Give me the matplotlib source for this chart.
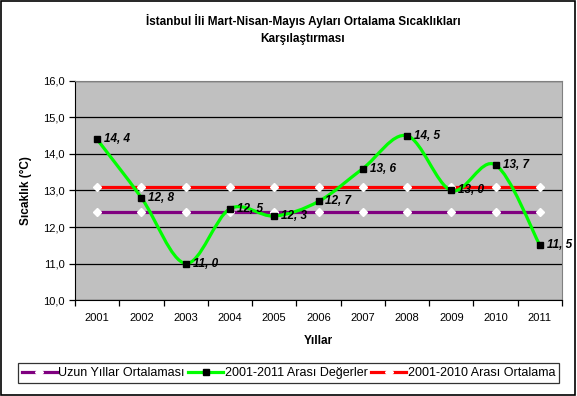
import matplotlib

matplotlib.use("Agg")

import matplotlib.pyplot as plt
import numpy as np
from matplotlib.patches import PathPatch, Rectangle
from matplotlib.path import Path
from matplotlib.lines import Line2D

years = ["2001", "2002", "2003", "2004", "2005", "2006",
         "2007", "2008", "2009", "2010", "2011"]
values = [14.4, 12.8, 11.0, 12.5, 12.3, 12.7, 13.6, 14.5, 13.0, 13.7, 11.5]
long_term_mean = [12.4] * 11
mean_2001_2010 = [13.1] * 11

title = "İstanbul İli Mart-Nisan-Mayıs Ayları Ortalama Sıcaklıkları\nKarşılaştırması"
ylabel = "Sıcaklık (°C)"
xlabel = "Yıllar"
legend_labels = ["Uzun Yıllar Ortalaması", "2001-2011 Arası Değerler",
                 "2001-2010 Arası Ortalama"]

plt.rcParams["font.family"] = ["Liberation Sans", "DejaVu Sans"]


def smooth_path(x, y):
    # Excel style smoothed line: Catmull-Rom as cubic Bezier segments
    pts = np.column_stack([x, y]).astype(float)
    ext = np.vstack([pts[0], pts, pts[-1]])
    verts = [pts[0]]
    codes = [Path.MOVETO]
    for i in range(len(pts) - 1):
        p0, p1, p2, p3 = ext[i], ext[i + 1], ext[i + 2], ext[i + 3]
        c1 = p1 + (p2 - p0) / 6.0
        c2 = p2 - (p3 - p1) / 6.0
        verts += [c1, c2, p2]
        codes += [Path.CURVE4] * 3
    return Path(verts, codes)


fig = plt.figure(figsize=(5.77, 3.96), dpi=100, facecolor="white")
fig.patches.append(Rectangle((0.002, 0.003), 0.995, 0.994, transform=fig.transFigure,
                             fill=False, edgecolor="black", linewidth=1.2))

ax = fig.add_axes([0.130, 0.2424, 0.844, 0.5531])
ax.set_facecolor("#C0C0C0")
x = np.arange(len(years))

purple_line, = ax.plot(x, long_term_mean, color="#800080", linewidth=2.3,
                       marker="D", markersize=3.8, markerfacecolor="white",
                       markeredgecolor="white", zorder=3)
red_line, = ax.plot(x, mean_2001_2010, color="#FF0000", linewidth=2.3,
                    marker="D", markersize=3.8, markerfacecolor="white",
                    markeredgecolor="white", zorder=3)
ax.add_patch(PathPatch(smooth_path(x, values), facecolor="none",
                       edgecolor="#00FF00", linewidth=2.3, zorder=4))
ax.plot(x, values, linestyle="none", marker="s", markersize=4.4,
        color="black", zorder=5)

for xi, v in zip(x, values):
    ax.annotate(f"{v:.1f}".replace(".", ", "), (xi, v), xytext=(5, 0),
                textcoords="offset points", ha="left", va="center",
                fontsize=8.5, fontweight="bold", fontstyle="italic", zorder=6)

ax.set_ylim(10, 16)
ax.set_yticks(np.arange(10, 16.5, 1))
ax.set_yticklabels([f"{t:.1f}".replace(".", ",") for t in np.arange(10, 16.5, 1)],
                   fontsize=8)
ax.grid(axis="y", color="black", linewidth=0.9)
ax.set_axisbelow(True)

ax.set_xlim(-0.5, len(years) - 0.5)
ax.set_xticks(np.arange(-0.5, len(years)))
ax.set_xticklabels([])
ax.set_xticks(x, minor=True)
ax.set_xticklabels(years, minor=True, fontsize=8)
ax.tick_params(axis="x", which="minor", length=0, pad=9)
ax.tick_params(axis="both", which="major", length=4, width=0.9, direction="out")

for side in ["top", "right"]:
    ax.spines[side].set_color("#808080")
for side in ["left", "bottom"]:
    ax.spines[side].set_color("black")

ax.set_ylabel(ylabel, fontsize=8.5, fontweight="bold", labelpad=8)
ax.set_xlabel(xlabel, fontsize=8.5, fontweight="bold", labelpad=9)
fig.text(0.525, 0.925, title, ha="center", va="center", fontsize=8.5,
         fontweight="bold", linespacing=1.5)

handles = [
    purple_line,
    Line2D([], [], color="#00FF00", linewidth=2.3, marker="s", markersize=4.4,
           markerfacecolor="black", markeredgecolor="black"),
    red_line,
]
leg = fig.legend(handles, legend_labels, loc="center", bbox_to_anchor=(0.5, 0.058),
                 ncol=3, fontsize=9.0, frameon=True, fancybox=False,
                 edgecolor="black", handlelength=2.8, handletextpad=0.1,
                 columnspacing=0.3, borderpad=0.3)
leg.get_frame().set_linewidth(0.9)

fig.savefig("out.png", dpi=100, facecolor="white")
